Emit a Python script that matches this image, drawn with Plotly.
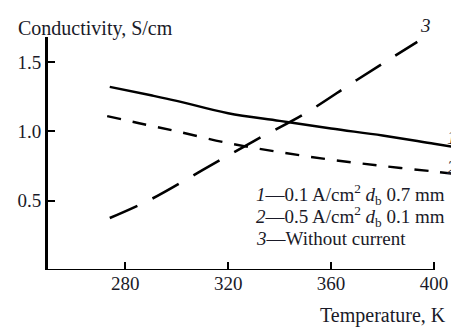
import plotly.graph_objects as go

# Conductivity vs temperature, three regimes
temp_1 = [274, 290, 300, 320, 340, 360, 380, 400, 407]
cond_1 = [1.32, 1.26, 1.22, 1.13, 1.075, 1.02, 0.97, 0.91, 0.89]

temp_2 = [273, 285, 300, 320, 340, 360, 380, 400, 407]
cond_2 = [1.11, 1.06, 1.00, 0.915, 0.85, 0.795, 0.75, 0.71, 0.695]

temp_3 = [274, 290, 310, 330, 350, 370, 393.5]
cond_3 = [0.375, 0.51, 0.72, 0.93, 1.13, 1.37, 1.645]

x_ticks = [280, 320, 360, 400]
y_ticks = [0.5, 1.0, 1.5]
y_tick_text = ["0.5", "1.0", "1.5"]

legend_lines = [
    "<i>1</i>—0.1 A/cm<sup>2</sup> <i>d</i><sub>b</sub> 0.7 mm",
    "<i>2</i>—0.5 A/cm<sup>2</sup> <i>d</i><sub>b</sub> 0.1 mm",
    "<i>3</i>—Without current",
]

W, H = 451, 327
ML, MR, MT, MB = 48, 0, 37, 57
PW, PH = W - ML - MR, H - MT - MB

def px(x):
    return (x - ML) / PW

def py(y):
    return (H - MB - y) / PH

FONT = "Liberation Serif, Times New Roman, serif"
INK = "#1a1a28"

fig = go.Figure()
fig.add_trace(go.Scatter(x=temp_1, y=cond_1, mode="lines", line_shape="spline",
                         line=dict(color="black", width=2.4)))
fig.add_trace(go.Scatter(x=temp_2, y=cond_2, mode="lines", line_shape="spline",
                         line=dict(color="black", width=2.4, dash="14px,12px")))
fig.add_trace(go.Scatter(x=temp_3, y=cond_3, mode="lines", line_shape="spline",
                         line=dict(color="black", width=2.6, dash="30px,17px")))

# horizontal axis line ending at the last tick
fig.add_shape(type="line", xref="x", yref="y", x0=250, x1=400, y0=0, y1=0,
              line=dict(color="black", width=2))

ann = []
ann.append(dict(text="Conductivity, S/cm", x=px(16), y=py(28), xanchor="left",
                yanchor="middle", size=20))
ann.append(dict(text="Temperature, K", x=px(448), y=py(315), xanchor="right",
                yanchor="middle", size=20))
for t, yy in zip(legend_lines, [195, 216.5, 238.5]):
    ann.append(dict(text=t, x=px(254), y=py(yy), xanchor="left", yanchor="middle", size=19))
ann.append(dict(text="<i>3</i>", x=px(425), y=py(25), xanchor="center", yanchor="middle", size=19))
ann.append(dict(text="<i>1</i>", x=px(445), y=py(137), xanchor="left", yanchor="middle", size=19))
ann.append(dict(text="<i>2</i>", x=px(445), y=py(167), xanchor="left", yanchor="middle", size=19))
for a in ann:
    s = a.pop("size")
    a.update(xref="paper", yref="paper", showarrow=False,
             font=dict(family=FONT, size=s, color=INK))

fig.update_layout(
    width=W, height=H,
    margin=dict(l=ML, r=MR, t=MT, b=MB),
    paper_bgcolor="white", plot_bgcolor="white",
    showlegend=False,
    annotations=ann,
    font=dict(family=FONT, size=19, color=INK),
)
fig.update_xaxes(range=[250, 406.6], showgrid=False, zeroline=False, showline=False,
                 tickmode="array", tickvals=x_ticks, ticks="inside", ticklen=8,
                 tickwidth=2, tickcolor="black",
                 tickfont=dict(family=FONT, size=19, color=INK))
fig.update_yaxes(range=[0, 1.68], showgrid=False, zeroline=False, showline=True,
                 linecolor="black", linewidth=3,
                 tickmode="array", tickvals=y_ticks, ticktext=y_tick_text,
                 ticks="inside", ticklen=7, tickwidth=2, tickcolor="black",
                 tickfont=dict(family=FONT, size=19, color=INK))

fig.write_html("out.html")
